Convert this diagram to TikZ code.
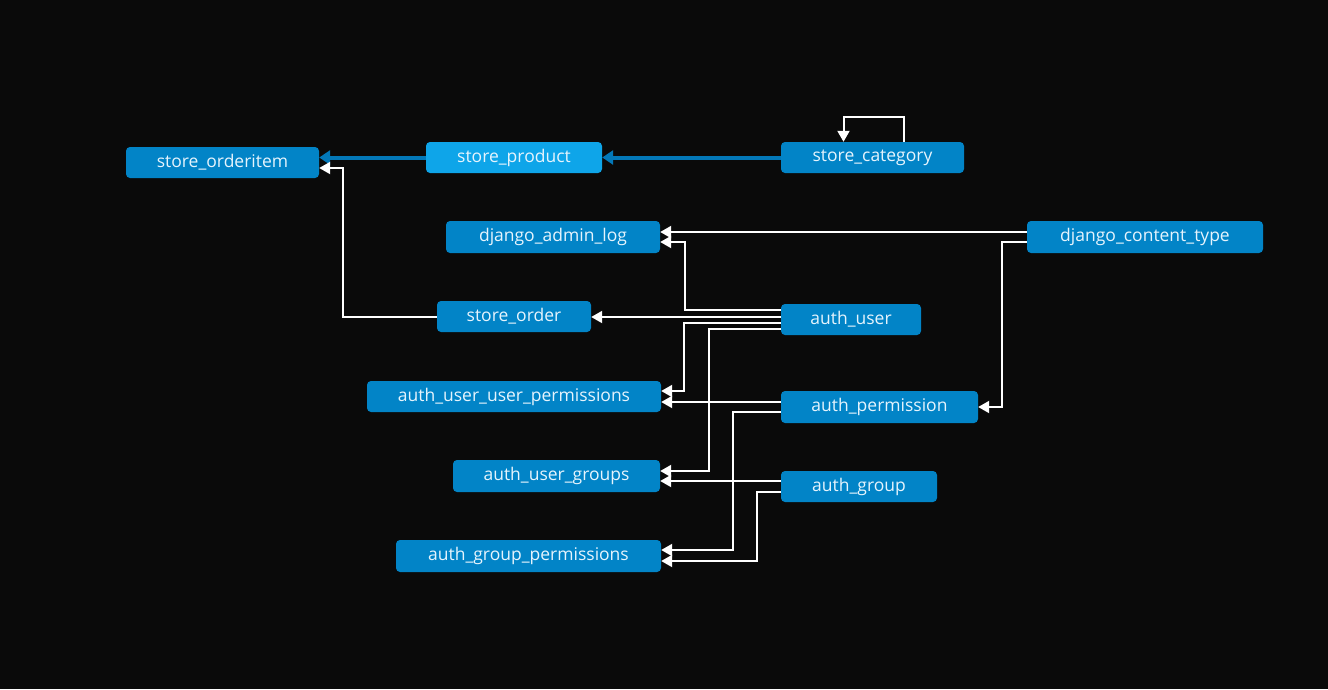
\documentclass[tikz,border=0pt]{standalone}
\usepackage{fontspec}
\setmainfont{Open Sans}
\usetikzlibrary{arrows.meta,calc}
\definecolor{bg}{HTML}{0A0A0A}
\definecolor{boxc}{HTML}{0284C7}
\definecolor{boxl}{HTML}{0EA5E9}
\definecolor{txt}{HTML}{E6F4FD}
\definecolor{blin}{HTML}{0378B8}
\begin{document}
\begin{tikzpicture}[x=1pt,y=-1pt,
  tbl/.style={rounded corners=4pt, fill=boxc, text=txt, inner sep=0pt,
    font=\fontsize{17.5}{19}\selectfont, anchor=center},
  wl/.style={draw=white, line width=2pt, -{Triangle[length=11pt,width=12pt]}},
  bl/.style={draw=blin, line width=4pt, -{Triangle[length=11pt,width=14pt]}}]
\fill[bg] (0,0) rectangle (1328,689);
\useasboundingbox (0,0) rectangle (1328,689);
% nodes
\node[tbl, minimum width=193pt, minimum height=31pt] (oi) at (222.5,162.5) {store\_orderitem};
\node[tbl, fill=boxl, minimum width=176pt, minimum height=31pt] (sp) at (514,157.5) {store\_product};
\node[tbl, minimum width=183pt, minimum height=31pt] (sc) at (872.5,157.5) {store\_category};
\node[tbl, minimum width=214pt, minimum height=32pt] (dal) at (553,237) {django\_admin\_log};
\node[tbl, minimum width=236pt, minimum height=32pt] (dct) at (1145,237) {django\_content\_type};
\node[tbl, minimum width=154pt, minimum height=31pt] (so) at (514,316.5) {store\_order};
\node[tbl, minimum width=140pt, minimum height=31pt] (au) at (851,319.5) {auth\_user};
\node[tbl, minimum width=294pt, minimum height=31pt] (auup) at (514,396.5) {auth\_user\_user\_permissions};
\node[tbl, minimum width=197pt, minimum height=32pt] (ap) at (879.5,407) {auth\_permission};
\node[tbl, minimum width=207pt, minimum height=32pt] (aug) at (556.5,476) {auth\_user\_groups};
\node[tbl, minimum width=156pt, minimum height=31pt] (ag) at (859,486.5) {auth\_group};
\node[tbl, minimum width=265pt, minimum height=32pt] (agp) at (528.5,556) {auth\_group\_permissions};
% blue connectors
\draw[bl] (sp.west) -- ($(oi.east)+(0,-5)$);
\draw[bl] (sc.west) -- (sp.east);
% self loop
\draw[wl] ($(sc.north)+(31,0)$) -- ++(0,-25) -| ($(sc.north)+(-29,0)$);
% white connectors
\draw[wl] (so.west) -| ($(oi.east)+(24,5.5)$) -- ($(oi.east)+(0,5.5)$);
\draw[wl] ($(dct.west)+(0,-5)$) -- ($(dal.east)+(0,-5)$);
\draw[wl] ($(dct.west)+(0,5)$) -| ($(ap.east)+(24,0)$) -- (ap.east);
\draw[wl] ($(au.west)+(0,-9.5)$) -| ($(dal.east)+(25,5)$) -- ($(dal.east)+(0,5)$);
\draw[wl] ($(au.west)+(0,-2.5)$) -- ($(so.east)+(0,0.5)$);
\draw[wl] ($(au.west)+(0,3.5)$) -| ($(auup.east)+(23,-5.5)$) -- ($(auup.east)+(0,-5.5)$);
\draw[wl] ($(au.west)+(0,9.5)$) -| ($(aug.east)+(49,-5)$) -- ($(aug.east)+(0,-5)$);
\draw[wl] ($(ap.west)+(0,-5)$) -- ($(auup.east)+(0,5.5)$);
\draw[wl] ($(ap.west)+(0,5)$) -| ($(agp.east)+(72,-6)$) -- ($(agp.east)+(0,-6)$);
\draw[wl] ($(ag.west)+(0,-5.5)$) -- ($(aug.east)+(0,5)$);
\draw[wl] ($(ag.west)+(0,5.5)$) -| ($(agp.east)+(96,5)$) -- ($(agp.east)+(0,5)$);
\end{tikzpicture}
\end{document}
